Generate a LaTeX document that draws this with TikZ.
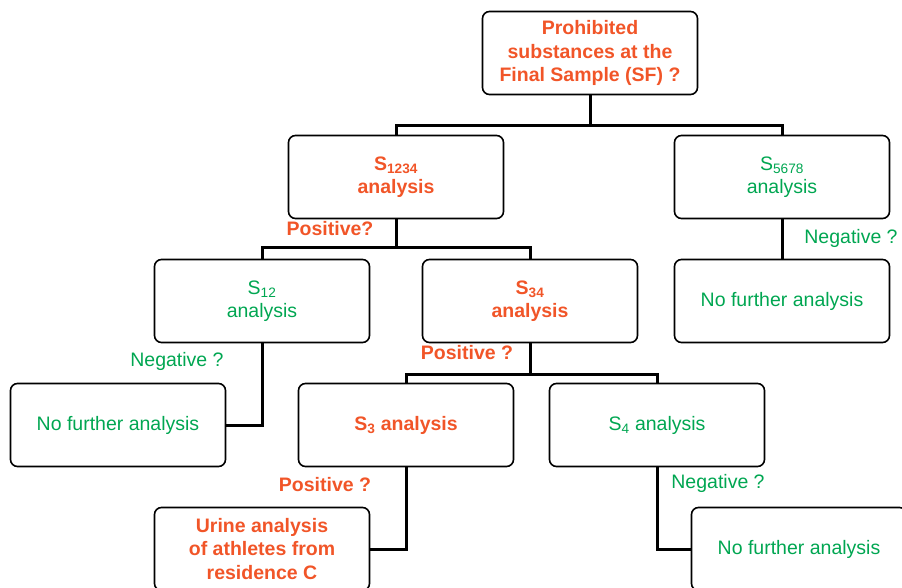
\documentclass[tikz,border=0pt]{standalone}
\usepackage{fontspec}
\setmainfont{Liberation Sans}
\definecolor{posorange}{RGB}{241,85,40}
\definecolor{neggreen}{RGB}{0,166,81}
\begin{document}
\begin{tikzpicture}[x=1pt,y=-1pt,
    box/.style = {draw, line width=1.6pt, rounded corners=7pt, minimum width=215pt, minimum height=83pt, align=center, font=\fontsize{19.5}{23.5}\selectfont},
    postext/.style = {text=posorange, font=\fontsize{19.5}{23.5}\selectfont\bfseries},
    negtext/.style = {text=neggreen, font=\fontsize{19.5}{23.5}\selectfont},
    conn/.style = {line width=3pt}]
        \clip (0,0) rectangle (902,588);
        \node[box, postext] (sf) at (590,53) {Prohibited\\substances at the\\Final Sample (SF) ?};
        \node[box, postext] (s1234) at (396,177) {S\textsubscript{1234}\\analysis};
        \node[box, negtext] (s5678) at (782,177) {S\textsubscript{5678}\\analysis};
        \node[box, negtext] (s12) at (262,301) {S\textsubscript{12}\\analysis};
        \node[box, postext] (s34) at (530,301) {S\textsubscript{34}\\analysis};
        \node[box, negtext] (nfa1) at (782,301) {No further analysis};
        \node[box, negtext] (nfa2) at (118,425) {No further analysis};
        \node[box, postext] (s3) at (406,425) {S\textsubscript{3} analysis};
        \node[box, negtext] (s4) at (657,425) {S\textsubscript{4} analysis};
        \node[box, postext] (urine) at (262,549) {Urine analysis\\of athletes from\\residence C};
        \node[box, negtext] (nfa3) at (799,549) {No further analysis};
        %
        \node[postext] (p1) at (330,229) {Positive?};
        \node[negtext] (n1) at (851,238) {Negative ?};
        \node[negtext] (n2) at (177,361) {Negative ?};
        \node[postext] (p2) at (467,353) {Positive ?};
        \node[postext] (p3) at (325,485) {Positive ?};
        \node[negtext] (n3) at (718,483) {Negative ?};
        %
        \draw[conn] (sf.south) -- ++(0,30) -| (s1234.north);
        \draw[conn] (sf.south) -- ++(0,30) -| (s5678.north);
        \draw[conn] (s1234.south) -- ++(0,28) -| (s12.north);
        \draw[conn] (s1234.south) -- ++(0,28) -| (s34.north);
        \draw[conn] (s5678.south) -- (nfa1.north);
        \draw[conn] (s12.south) |- (nfa2.east);
        \draw[conn] (s34.south) -- ++(0,31) -| (s3.north);
        \draw[conn] (s34.south) -- ++(0,31) -| (s4.north);
        \draw[conn] (s3.south) |- (urine.east);
        \draw[conn] (s4.south) |- (nfa3.west);
      \end{tikzpicture}
\end{document}
